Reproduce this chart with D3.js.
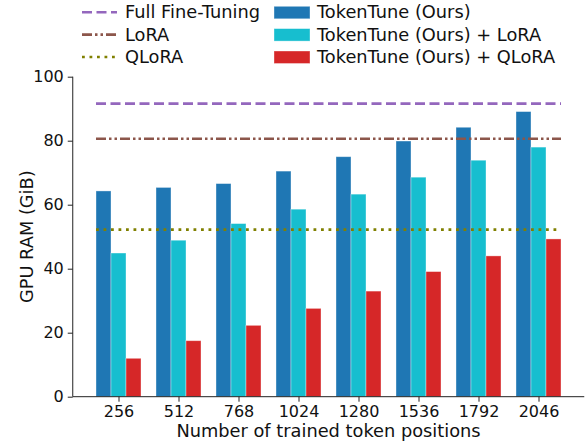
<!DOCTYPE html>
<html>
<head>
<meta charset="utf-8">
<script src="https://cdn.jsdelivr.net/npm/d3@7/dist/d3.min.js"></script>
<style>
  html, body { margin: 0; padding: 0; background: #fff; }
  svg { display: block; font-family: "DejaVu Sans", sans-serif; }
</style>
</head>
<body>
<svg id="chart" width="587" height="443"></svg>
<script>
// ---- Data ----
const categories = ["256", "512", "768", "1024", "1280", "1536", "1792", "2046"];
const tokenTune      = [64.3, 65.4, 66.6, 70.5, 75.0, 79.9, 84.2, 89.1];
const tokenTuneLoRA  = [44.9, 48.9, 54.1, 58.6, 63.3, 68.6, 73.9, 78.0];
const tokenTuneQLoRA = [12.0, 17.5, 22.3, 27.6, 33.0, 39.1, 44.0, 49.3];
const fullFineTuning = 91.6;
const loraLevel = 80.6;
const qloraLevel = 52.2;
const yTicks = [0, 20, 40, 60, 80, 100];

const barSeries = [
  { name: "TokenTune (Ours)", values: tokenTune, color: "#1f77b4", offset: -1 },
  { name: "TokenTune (Ours) + LoRA", values: tokenTuneLoRA, color: "#17becf", offset: 0 },
  { name: "TokenTune (Ours) + QLoRA", values: tokenTuneQLoRA, color: "#d62728", offset: 1 }
];
const lineSeries = [
  { name: "Full Fine-Tuning", value: fullFineTuning, color: "#9467bd", dash: "10,4.5" },
  { name: "LoRA", value: loraLevel, color: "#8c564b", dash: "10,3,2.5,3,2.5,3" },
  { name: "QLoRA", value: qloraLevel, color: "#808000", dash: "2.8,4.7" }
];

// ---- Layout ----
const svg = d3.select("#chart");
const plot = { left: 72.75, right: 584.25, top: 76.7, bottom: 396.7 };
const barW = 0.25;
const x = d3.scaleLinear().domain([-0.7625, categories.length - 1 + 0.7625]).range([plot.left, plot.right]);
const y = d3.scaleLinear().domain([0, 100]).range([plot.bottom, plot.top]);

// Bars
barSeries.forEach(s => {
  svg.append("g").selectAll("rect").data(s.values).join("rect")
    .attr("x", (d, i) => x(i + s.offset * barW - barW / 2))
    .attr("width", x(barW) - x(0))
    .attr("y", d => y(d))
    .attr("height", d => y(0) - y(d))
    .attr("fill", s.color)
    .attr("stroke", "rgba(255,255,255,0.45)")
    .attr("stroke-width", 0.8);
});

// Horizontal reference lines
lineSeries.forEach(l => {
  svg.append("line")
    .attr("x1", x(-1.5 * barW)).attr("x2", x(categories.length - 1 + 1.5 * barW))
    .attr("y1", y(l.value)).attr("y2", y(l.value))
    .attr("stroke", l.color).attr("stroke-width", 2.6)
    .attr("stroke-dasharray", l.dash);
});

// Axes
const xAxis = d3.axisBottom(x)
  .tickValues(d3.range(categories.length))
  .tickFormat(i => categories[i])
  .tickSize(5).tickPadding(4);
const gx = svg.append("g").attr("transform", `translate(0,${plot.bottom})`).call(xAxis);
gx.select(".domain").attr("d", `M${plot.left},0H${plot.right}`);

const yAxis = d3.axisLeft(y).tickValues(yTicks).tickSize(5).tickPadding(4);
const gy = svg.append("g").attr("transform", `translate(${plot.left},0)`).call(yAxis);
gy.select(".domain").attr("d", `M0,${plot.top}V${plot.bottom}`);

[gx, gy].forEach(g => {
  g.selectAll(".domain").attr("stroke", "#222").attr("stroke-width", 1);
  g.selectAll(".tick line").attr("stroke", "#222").attr("stroke-width", 1);
  g.selectAll("text").attr("font-size", 16).attr("fill", "#111")
    .attr("font-family", "DejaVu Sans, sans-serif");
});

// Axis labels
svg.append("text")
  .attr("x", (plot.left + plot.right) / 2).attr("y", 437)
  .attr("text-anchor", "middle").attr("font-size", 17.8).attr("fill", "#111")
  .text("Number of trained token positions");
svg.append("text")
  .attr("transform", `translate(32.5,${(plot.top + plot.bottom) / 2}) rotate(-90)`)
  .attr("text-anchor", "middle").attr("font-size", 17.8).attr("fill", "#111")
  .text("GPU RAM (GiB)");

// Legend
const rowBase = [18.3, 40.7, 63.1];
const rowMid = [12.3, 34.6, 57.0];
const leg = svg.append("g");
lineSeries.forEach((l, i) => {
  leg.append("line")
    .attr("x1", 82).attr("x2", 117).attr("y1", rowMid[i]).attr("y2", rowMid[i])
    .attr("stroke", l.color).attr("stroke-width", 2.6).attr("stroke-dasharray", l.dash);
  leg.append("text").attr("x", 125).attr("y", rowBase[i])
    .attr("font-size", 17.8).attr("fill", "#111").text(l.name);
});
barSeries.forEach((s, i) => {
  leg.append("rect")
    .attr("x", 274).attr("y", rowMid[i] - 6).attr("width", 36).attr("height", 12.5)
    .attr("fill", s.color).attr("stroke", "rgba(255,255,255,0.45)").attr("stroke-width", 0.8);
  leg.append("text").attr("x", 317).attr("y", rowBase[i])
    .attr("font-size", 17.8).attr("fill", "#111").text(s.name);
});
</script>
</body>
</html>
